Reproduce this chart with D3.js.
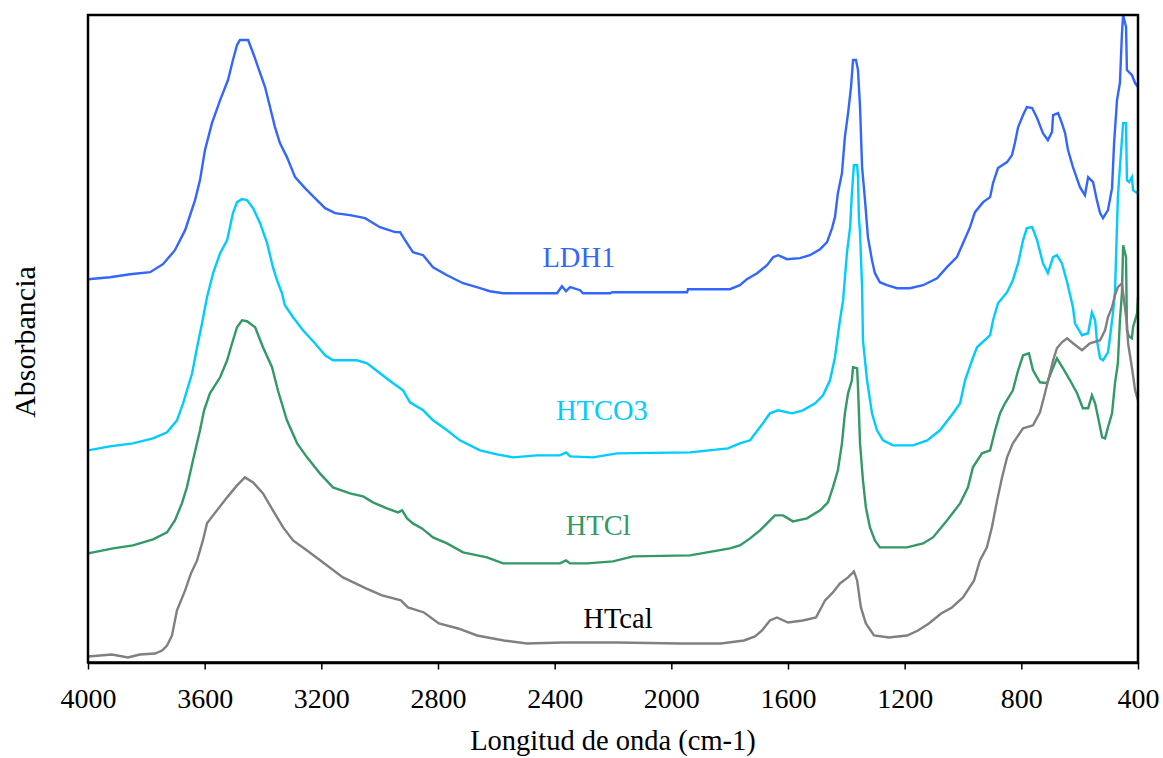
<!DOCTYPE html>
<html>
<head>
<meta charset="utf-8">
<script src="https://cdn.jsdelivr.net/npm/d3@7"></script>
<style>
  html, body { margin: 0; padding: 0; background: #fff; }
  svg { display: block; }
  svg text { font-family: "Liberation Serif", "Times New Roman", serif; }
</style>
</head>
<body>
<svg id="chart" width="1163" height="758"></svg>
<script>
// FTIR spectra: [wavenumber (cm-1), absorbance (offset, a.u.)]
const ldh1 = [
  [4000,3.83],[3925,3.85],[3856,3.88],[3787,3.90],[3743,3.98],[3702,4.12],[3667,4.32],[3633,4.62],
  [3616,4.82],[3599,5.12],[3575,5.39],[3547,5.62],[3520,5.82],[3503,6.02],[3489,6.17],[3479,6.22],
  [3451,6.22],[3434,6.09],[3417,5.95],[3393,5.75],[3376,5.55],[3359,5.35],[3342,5.19],[3318,5.05],
  [3290,4.85],[3256,4.74],[3222,4.64],[3187,4.54],[3153,4.49],[3102,4.47],[3050,4.44],[2999,4.35],
  [2947,4.30],[2930,4.30],[2913,4.22],[2886,4.10],[2851,4.07],[2817,3.95],[2769,3.87],[2714,3.79],
  [2656,3.74],[2622,3.71],[2577,3.69],[2392,3.69],[2375,3.76],[2361,3.71],[2347,3.75],[2313,3.72],
  [2303,3.69],[2210,3.69],[2203,3.70],[1946,3.70],[1943,3.73],[1799,3.73],[1765,3.77],[1741,3.83],
  [1706,3.89],[1672,3.97],[1651,4.05],[1634,4.07],[1603,4.03],[1559,4.04],[1525,4.07],[1490,4.13],
  [1466,4.20],[1449,4.34],[1439,4.45],[1429,4.69],[1415,4.89],[1405,5.25],[1394,5.49],[1384,5.75],
  [1377,6.02],[1367,6.02],[1360,5.92],[1353,5.55],[1346,4.95],[1336,4.62],[1326,4.25],[1312,4.02],
  [1302,3.89],[1285,3.80],[1261,3.77],[1226,3.74],[1182,3.74],[1137,3.77],[1089,3.84],[1055,3.95],
  [1021,4.05],[1000,4.19],[976,4.35],[959,4.50],[931,4.60],[907,4.65],[897,4.79],[880,4.94],
  [849,5.00],[832,5.07],[822,5.19],[811,5.35],[794,5.47],[781,5.55],[763,5.54],[746,5.44],
  [726,5.29],[709,5.22],[695,5.30],[691,5.47],[674,5.49],[661,5.39],[650,5.29],[640,5.12],
  [623,4.95],[599,4.75],[582,4.67],[571,4.85],[554,4.80],[541,4.62],[530,4.49],[520,4.44],
  [503,4.52],[489,4.74],[482,5.19],[472,5.62],[462,5.79],[455,6.29],[451,6.47],[441,6.35],
  [438,5.92],[421,5.87],[410,5.79],[400,5.75]
];

const htco3 = [
  [4000,2.12],[3925,2.16],[3846,2.19],[3777,2.24],[3729,2.30],[3695,2.42],[3674,2.59],[3643,2.89],
  [3626,3.15],[3609,3.39],[3592,3.65],[3571,3.89],[3547,4.09],[3523,4.22],[3503,4.49],[3489,4.60],
  [3472,4.63],[3455,4.62],[3434,4.54],[3410,4.39],[3386,4.19],[3366,3.95],[3352,3.82],[3335,3.69],
  [3325,3.57],[3297,3.45],[3263,3.32],[3222,3.19],[3187,3.07],[3160,3.02],[3078,3.02],[3043,2.99],
  [2999,2.89],[2954,2.79],[2920,2.72],[2896,2.60],[2851,2.52],[2817,2.42],[2769,2.32],[2725,2.22],
  [2656,2.12],[2598,2.08],[2543,2.05],[2461,2.07],[2382,2.07],[2361,2.10],[2347,2.06],[2269,2.05],
  [2186,2.09],[1936,2.10],[1806,2.14],[1765,2.19],[1730,2.22],[1686,2.39],[1662,2.49],[1634,2.52],
  [1586,2.49],[1549,2.52],[1507,2.59],[1480,2.67],[1456,2.82],[1439,3.05],[1422,3.42],[1411,3.62],
  [1398,4.09],[1387,4.35],[1381,4.69],[1374,4.97],[1363,4.97],[1360,4.85],[1357,4.45],[1353,4.29],
  [1346,3.75],[1343,3.22],[1329,2.82],[1312,2.49],[1295,2.32],[1274,2.22],[1240,2.17],[1171,2.17],
  [1123,2.22],[1079,2.32],[1034,2.49],[1010,2.59],[993,2.82],[969,3.02],[952,3.15],[907,3.27],
  [897,3.42],[880,3.59],[849,3.70],[829,3.82],[811,3.99],[794,4.22],[781,4.34],[763,4.35],
  [746,4.22],[726,3.99],[709,3.89],[691,4.05],[678,4.07],[661,3.99],[643,3.80],[623,3.55],
  [616,3.39],[592,3.27],[571,3.29],[558,3.50],[547,3.42],[541,3.22],[530,3.04],[520,3.02],
  [503,3.10],[496,3.25],[486,3.49],[479,3.69],[469,4.65],[462,4.95],[451,5.39],[441,5.39],
  [438,4.82],[431,4.80],[421,4.85],[417,4.72],[403,4.69],[400,4.70]
];

const htcl = [
  [4000,1.09],[3914,1.14],[3846,1.17],[3777,1.23],[3729,1.30],[3702,1.42],[3678,1.59],[3661,1.75],
  [3640,2.02],[3616,2.32],[3602,2.52],[3582,2.69],[3547,2.85],[3523,3.02],[3506,3.19],[3489,3.35],
  [3472,3.42],[3455,3.41],[3427,3.35],[3400,3.15],[3369,2.95],[3349,2.72],[3318,2.42],[3283,2.19],
  [3249,2.05],[3205,1.89],[3160,1.75],[3102,1.69],[3057,1.66],[3023,1.60],[2975,1.54],[2937,1.50],
  [2923,1.52],[2906,1.44],[2886,1.39],[2855,1.34],[2817,1.25],[2769,1.19],[2714,1.10],[2632,1.05],
  [2577,0.99],[2382,0.99],[2361,1.02],[2347,0.99],[2289,0.99],[2200,1.01],[2131,1.06],[1936,1.07],
  [1799,1.14],[1765,1.17],[1730,1.24],[1696,1.32],[1672,1.39],[1645,1.47],[1617,1.47],[1583,1.41],
  [1535,1.44],[1490,1.52],[1463,1.60],[1446,1.75],[1429,1.92],[1415,2.19],[1405,2.49],[1394,2.69],
  [1381,2.82],[1377,2.95],[1363,2.94],[1360,2.75],[1353,2.19],[1343,1.82],[1333,1.55],[1319,1.35],
  [1302,1.22],[1285,1.15],[1192,1.15],[1137,1.19],[1103,1.25],[1055,1.42],[1010,1.59],[983,1.75],
  [966,1.95],[935,2.09],[907,2.12],[890,2.32],[873,2.49],[856,2.59],[829,2.72],[811,2.92],
  [794,3.07],[774,3.09],[760,2.92],[736,2.80],[712,2.79],[695,2.92],[678,3.04],[657,2.94],
  [633,2.82],[609,2.69],[589,2.54],[571,2.54],[558,2.67],[547,2.59],[537,2.45],[523,2.25],
  [513,2.24],[503,2.35],[489,2.49],[479,2.79],[469,2.99],[462,3.42],[455,3.69],[451,4.17],
  [445,4.10],[441,4.05],[438,3.32],[431,3.26],[421,3.24],[417,3.35],[403,3.49],[400,3.65]
];

const htcal = [
  [4000,0.06],[3918,0.08],[3863,0.05],[3822,0.08],[3770,0.09],[3746,0.12],[3729,0.17],[3712,0.27],
  [3695,0.52],[3667,0.72],[3647,0.89],[3626,1.02],[3606,1.22],[3592,1.39],[3558,1.52],[3523,1.65],
  [3489,1.77],[3462,1.85],[3434,1.80],[3400,1.69],[3366,1.52],[3331,1.35],[3297,1.22],[3249,1.12],
  [3194,1.00],[3126,0.85],[3047,0.74],[2992,0.67],[2927,0.62],[2903,0.55],[2848,0.50],[2797,0.39],
  [2731,0.34],[2666,0.27],[2574,0.22],[2495,0.19],[2371,0.20],[2186,0.20],[1970,0.19],[1830,0.19],
  [1751,0.22],[1713,0.26],[1689,0.32],[1662,0.42],[1638,0.45],[1600,0.40],[1549,0.42],[1504,0.45],
  [1473,0.62],[1446,0.70],[1422,0.79],[1394,0.85],[1374,0.91],[1363,0.82],[1350,0.55],[1333,0.39],
  [1305,0.27],[1254,0.25],[1192,0.27],[1154,0.32],[1117,0.39],[1075,0.49],[1038,0.55],[1000,0.65],
  [962,0.82],[942,1.02],[918,1.15],[901,1.35],[883,1.62],[866,1.85],[849,2.05],[829,2.19],
  [794,2.34],[760,2.37],[736,2.50],[719,2.69],[702,2.89],[691,3.02],[678,3.14],[661,3.20],
  [643,3.24],[623,3.19],[592,3.12],[565,3.19],[530,3.22],[513,3.32],[503,3.45],[489,3.55],
  [479,3.67],[469,3.75],[455,3.79],[451,3.69],[438,3.39],[434,3.19],[421,2.95],[410,2.72],[400,2.62]
];

const seriesNames = ["LDH1", "HTCO3", "HTCl", "HTcal"];
const seriesData = [ldh1, htco3, htcl, htcal];
const seriesColors = ["#3366FF", "#00CCFF", "#339966", "#808080"];
const labelColors = ["#3366FF", "#00CCFF", "#339966", "#000000"];
const xTicks = [4000, 3600, 3200, 2800, 2400, 2000, 1600, 1200, 800, 400];
const xTitle = "Longitud de onda (cm-1)";
const yTitle = "Absorbancia";

const serif = "'Liberation Serif', 'Times New Roman', serif";

// ---- layout ----
const svg = d3.select("#chart");
const plot = { left: 88, right: 1138, top: 15, bottom: 662.5 };

const x = d3.scaleLinear().domain([4000, 400]).range([plot.left, plot.right]);
const y = d3.scaleLinear().domain([0, 6.47]).range([plot.bottom, plot.top]);

// spectra
const line = d3.line().x(d => x(d[0])).y(d => y(d[1]));
svg.append("g")
  .selectAll("path")
  .data(seriesData)
  .join("path")
  .attr("d", line)
  .attr("fill", "none")
  .attr("stroke", (d, i) => seriesColors[i])
  .attr("stroke-width", 2.4)
  .attr("stroke-linejoin", "miter");

// in-plot series labels (anchor in data coordinates: wavenumber, absorbance of baseline)
const labelAnchors = [[2317, 3.95], [2238, 2.42], [2251, 1.27], [2183, 0.345]];
svg.append("g")
  .selectAll("text")
  .data(seriesNames)
  .join("text")
  .attr("x", (d, i) => x(labelAnchors[i][0]))
  .attr("y", (d, i) => y(labelAnchors[i][1]))
  .attr("text-anchor", "middle")
  .attr("font-family", serif)
  .attr("font-size", 28.5)
  .attr("fill", (d, i) => labelColors[i])
  .text(d => d);

// plot frame
svg.append("rect")
  .attr("x", plot.left).attr("y", plot.top)
  .attr("width", plot.right - plot.left)
  .attr("height", plot.bottom - plot.top)
  .attr("fill", "none")
  .attr("stroke", "#000")
  .attr("stroke-width", 2.5);

// x axis
const xAxis = d3.axisBottom(x)
  .tickValues(xTicks)
  .tickFormat(d3.format("d"))
  .tickSize(7)
  .tickSizeOuter(0)
  .tickPadding(19);

const gx = svg.append("g")
  .attr("transform", `translate(0,${plot.bottom})`)
  .call(xAxis)
  .attr("font-family", serif)
  .attr("font-size", 28);
gx.select(".domain").attr("stroke", "#000").attr("stroke-width", 2.5);
gx.selectAll(".tick line").attr("stroke", "#000").attr("stroke-width", 1.5);
gx.selectAll(".tick text")
  .attr("font-family", serif)
  .attr("font-size", 28)
  .attr("fill", "#000");

// axis titles
svg.append("text")
  .attr("x", 613).attr("y", 750)
  .attr("text-anchor", "middle")
  .attr("font-family", serif)
  .attr("font-size", 28.5)
  .attr("fill", "#000")
  .text(xTitle);

svg.append("text")
  .attr("transform", "translate(35,342) rotate(-90)")
  .attr("text-anchor", "middle")
  .attr("font-family", serif)
  .attr("font-size", 30)
  .attr("fill", "#000")
  .text(yTitle);
</script>
</body>
</html>
